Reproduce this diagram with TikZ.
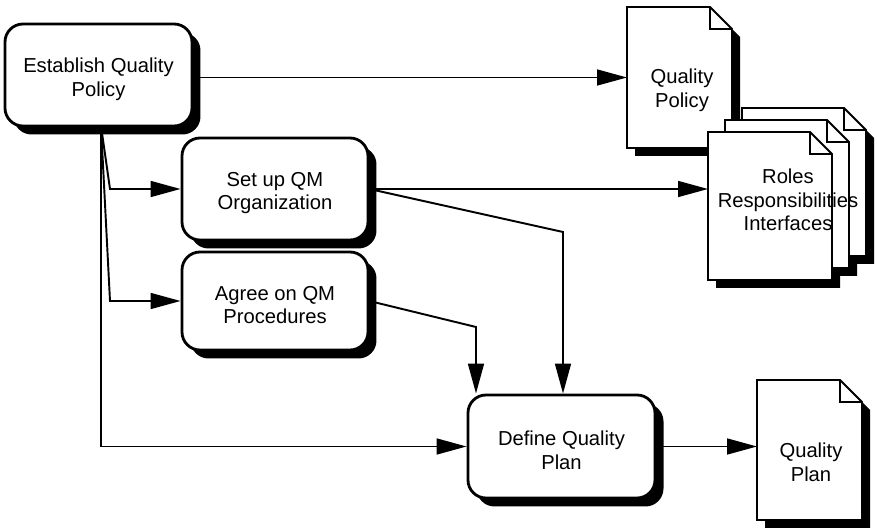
\documentclass[tikz,border=0pt]{standalone}
\usepackage{fontspec}
\setmainfont{Liberation Sans}
\usetikzlibrary{arrows.meta,shadows,fit,calc}

\tikzset{
  px/.style={x=0.02cm,y=-0.02cm},
  labeltext/.style={font=\fontsize{11.5pt}{13.5pt}\selectfont, align=center, inner sep=0pt},
  procbox/.style={draw, fill=white, line width=1.6pt, rounded corners=0.36cm,
    inner sep=0pt,
    drop shadow={shadow xshift=0.17cm, shadow yshift=-0.17cm, opacity=1, fill=black}},
  boxsize/.style 2 args={minimum width=#1*0.02cm, minimum height=#2*0.02cm},
  pageframe/.style={inner sep=0pt, outer sep=0pt},
  pageline/.style={line width=1.1pt, line join=miter},
  flow/.style={line width=1.1pt, -{Triangle[length=17pt,width=9pt]}},
}

% solid shadow of a folded page; #1 frame node, #2 fold size
\newcommand{\docshadow}[2]{%
  \fill[black] ($(#1.north west)+(8,8)$) -- ($(#1.north east)+(8-#2,8)$)
    -- ($(#1.north east)+(8,8+#2)$) -- ($(#1.south east)+(8,8)$)
    -- ($(#1.south west)+(8,8)$) -- cycle;
}
% the page itself with its turned-down corner
\newcommand{\docsheet}[2]{%
  \filldraw[pageline, fill=white] (#1.north west) -- ($(#1.north east)+(-#2,0)$)
    -- ($(#1.north east)+(0,#2)$) -- (#1.south east) -- (#1.south west) -- cycle;
  \draw[pageline] ($(#1.north east)+(-#2,0)$) -- ++(0,#2) -- ($(#1.north east)+(0,#2)$);
}

\begin{document}
\begin{tikzpicture}[px]
\useasboundingbox (0,0) rectangle (877,530);

% document pages: shadows first, then the sheets back to front
\node[pageframe, fit={(627,7) (732,148)}] (qp) {};
\node[pageframe, fit={(742,108) (866,256)}] (rolesA) {};
\node[pageframe, fit={(725,120) (849,268)}] (rolesB) {};
\node[pageframe, fit={(708,132) (832,280)}] (rolesC) {};
\node[pageframe, fit={(757,380) (862,520)}] (qplan) {};
\foreach \p in {qp,rolesA,rolesB,rolesC,qplan} {\docshadow{\p}{22}}
\foreach \p in {qp,rolesA,rolesB,rolesC,qplan} {\docsheet{\p}{22}}

\node[labeltext] (qptext) at (682,90) {Quality\\Policy};
\node[labeltext] (rolestext) at (788,200) {Roles\\Responsibilities\\Interfaces};
\node[labeltext] (qplantext) at (811,462) {Quality\\Plan};

% process steps
\node[procbox, boxsize={187}{102}] (est) at (98.5,75) {};
\node[procbox, boxsize={186}{102}] (setup) at (275,189) {};
\node[procbox, boxsize={186}{98}] (agree) at (275,301) {};
\node[procbox, boxsize={187}{103}] (define) at (561.5,446.5) {};

\node[labeltext] (esttext) at ($(est)+(0,4)$) {Establish Quality\\Policy};
\node[labeltext] (setuptext) at ($(setup)+(0,4)$) {Set up QM\\Organization};
\node[labeltext] (agreetext) at ($(agree)+(0,4)$) {Agree on QM\\Procedures};
\node[labeltext] (definetext) at ($(define)+(0,4)$) {Define Quality\\Plan};

% routing points
\coordinate (trunk) at (101,126);
\coordinate (kneeX) at (110,0);
\coordinate (bendA) at (563,232);
\coordinate (bendB) at (476,327);

% connectors
\draw[flow] (est.east |- qp.west) -- (qp.west);
\draw[flow] (trunk) -- (kneeX |- setup.west) -- (setup.west);
\draw[flow] (trunk) -- (kneeX |- agree.west) -- (agree.west);
\draw[flow] (trunk) -- (trunk |- define.west) -- (define.west);
\draw[flow] (setup.east) -- (setup.east -| rolesC.west);
\draw[flow] (setup.east) -- (bendA) -- (bendA |- define.north);
\draw[flow] (agree.east) -- (bendB) -- (bendB |- define.north);
\draw[flow] (define.east) -- (define.east -| qplan.west);
\end{tikzpicture}
\end{document}
